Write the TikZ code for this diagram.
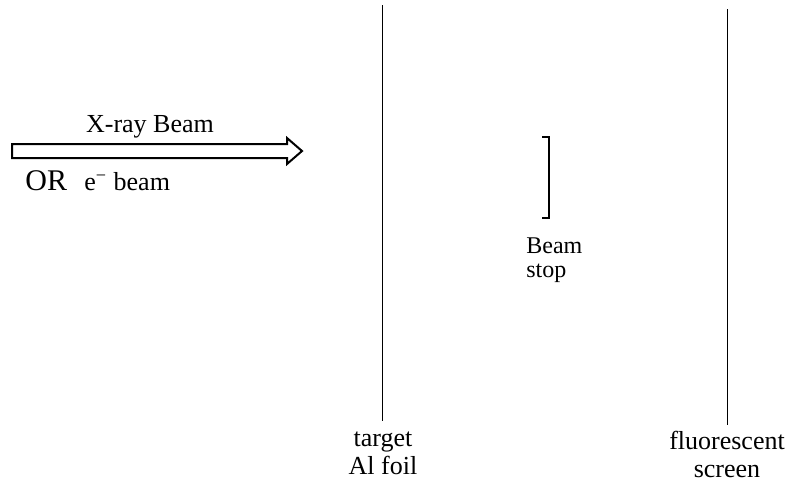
\documentclass[tikz,border=0pt]{standalone}
\usepackage{fontspec}
\setmainfont{Liberation Serif}
\tikzset{
lbl/.style={font=\fontsize{13}{14}\selectfont, inner sep=0pt, align=center},
plate/.style={draw=black, line width=0.5pt},
}
\begin{document}
\begin{tikzpicture}[x=0.5pt,y=-0.5pt]
\useasboundingbox (0,0) rectangle (791,484);
% beam arrow
\draw [line width=1pt, line join=miter] (12,144)--(287,144)--(287,138)--(302,151)--(287,164)--(287,158)--(12,158)--cycle;
\node [lbl, anchor=base] (xray) at (150,132) {X-ray Beam};
\node [font=\fontsize{15}{15}\selectfont, inner sep=0pt, anchor=base west] (or) at (25,190) {OR};
\node [lbl, anchor=base west] (ebeam) at (84,190) {e\textsuperscript{\char"2212} beam};
% target foil
\coordinate (foiltop) at (382.5,5);
\coordinate (foilbot) at (382.5,421);
\draw [plate] (foiltop)--(foilbot);
\node [lbl, anchor=north] (foil) at (383,431) {target\\Al foil};
% beam stop
\coordinate (stoptop) at (549,137);
\coordinate (stopbot) at (549,218);
\draw [line width=1pt] ([xshift=-3.5pt]stoptop)--(stoptop)--(stopbot)--([xshift=-3.5pt]stopbot);
\node [lbl, font=\fontsize{12}{12}\selectfont, align=left, anchor=north west] (stop) at (526,237) {Beam\\stop};
% fluorescent screen
\coordinate (scrtop) at (727.5,9);
\coordinate (scrbot) at (727.5,425);
\draw [plate] (scrtop)--(scrbot);
\node [lbl, anchor=north] (screen) at (727,431) {fluorescent\\screen};
\end{tikzpicture}
\end{document}
